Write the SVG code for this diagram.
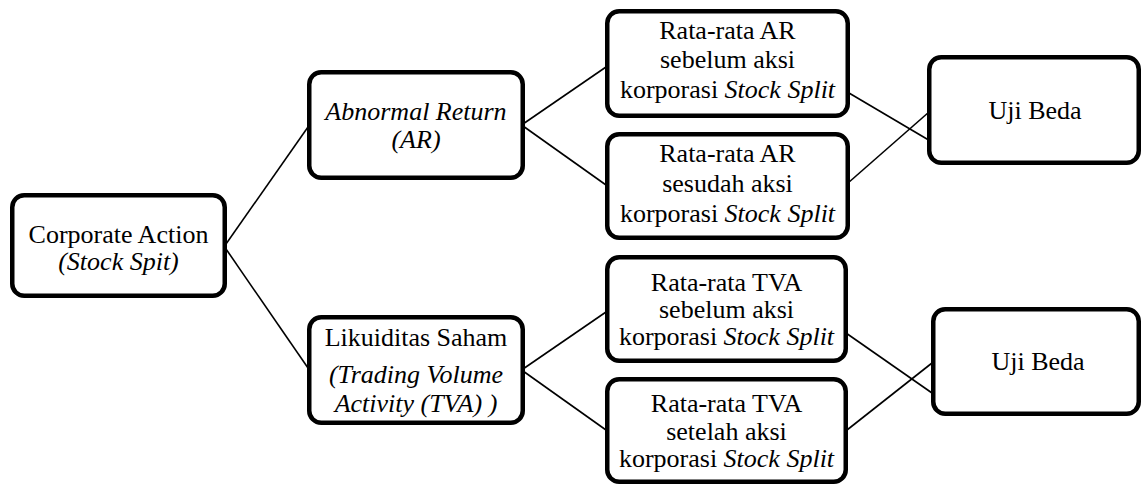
<svg xmlns="http://www.w3.org/2000/svg" width="1142" height="485" viewBox="0 0 1142 485">
<style>
.box{fill:#fff;stroke:#000;stroke-width:4.5}
text{font-family:"Liberation Serif","Times New Roman",serif;font-size:26px;fill:#000;text-anchor:middle}
.i{font-style:italic}
.c line{stroke:#000;stroke-width:1.6}
</style>
<rect width="1142" height="485" fill="#fff"/>
<g class="c" id="connectors">
<line x1="226" y1="244" x2="308" y2="127"/>
<line x1="226" y1="249" x2="308" y2="368"/>
<line x1="523" y1="124" x2="606" y2="67"/>
<line x1="523" y1="126" x2="606" y2="185"/>
<line x1="523" y1="369" x2="606" y2="312"/>
<line x1="523" y1="371" x2="606" y2="430"/>
<line x1="849" y1="93" x2="932" y2="142"/>
<line x1="848" y1="183" x2="929" y2="112"/>
<line x1="846" y1="333" x2="932" y2="393"/>
<line x1="847" y1="430" x2="932" y2="363"/>
</g>
<g id="corporate-action">
<rect class="box" x="12.25" y="195.25" width="212.5" height="100.5" rx="12"/>
<text x="118.5" y="243">Corporate Action</text>
<text class="i" x="118.5" y="270">(Stock Spit)</text>
</g>
<g id="abnormal-return">
<rect class="box" x="309.25" y="72.25" width="213.5" height="105.5" rx="12"/>
<text class="i" x="416" y="120">Abnormal Return</text>
<text class="i" x="416" y="148">(AR)</text>
</g>
<g id="likuiditas">
<rect class="box" x="309.25" y="317.25" width="213.5" height="105.5" rx="12"/>
<text x="416" y="346">Likuiditas Saham</text>
<text class="i" x="416" y="383">(Trading Volume</text>
<text class="i" x="416" y="412">Activity (TVA) )</text>
</g>
<g id="ar-sebelum">
<rect class="box" x="607.25" y="11.25" width="240.5" height="104.5" rx="12"/>
<text x="727.5" y="39">Rata-rata AR</text>
<text x="727.5" y="68">sebelum aksi</text>
<text x="727.5" y="98">korporasi <tspan class="i">Stock Split</tspan></text>
</g>
<g id="ar-sesudah">
<rect class="box" x="607.25" y="134.25" width="240.5" height="103.5" rx="12"/>
<text x="727.5" y="162">Rata-rata AR</text>
<text x="727.5" y="192">sesudah aksi</text>
<text x="727.5" y="222">korporasi <tspan class="i">Stock Split</tspan></text>
</g>
<g id="tva-sebelum">
<rect class="box" x="607.25" y="257.25" width="238.5" height="103.5" rx="12"/>
<text x="726.5" y="291">Rata-rata TVA</text>
<text x="726.5" y="318">sebelum aksi</text>
<text x="726.5" y="345">korporasi <tspan class="i">Stock Split</tspan></text>
</g>
<g id="tva-setelah">
<rect class="box" x="607.25" y="379.25" width="238.5" height="102.5" rx="12"/>
<text x="726.5" y="412">Rata-rata TVA</text>
<text x="726.5" y="440">setelah aksi</text>
<text x="726.5" y="467">korporasi <tspan class="i">Stock Split</tspan></text>
</g>
<g id="uji-beda-1">
<rect class="box" x="929.25" y="57.25" width="209.5" height="105.5" rx="12"/>
<text x="1035" y="119">Uji Beda</text>
</g>
<g id="uji-beda-2">
<rect class="box" x="933.25" y="309.25" width="205.5" height="104.5" rx="12"/>
<text x="1038" y="370">Uji Beda</text>
</g>
</svg>
